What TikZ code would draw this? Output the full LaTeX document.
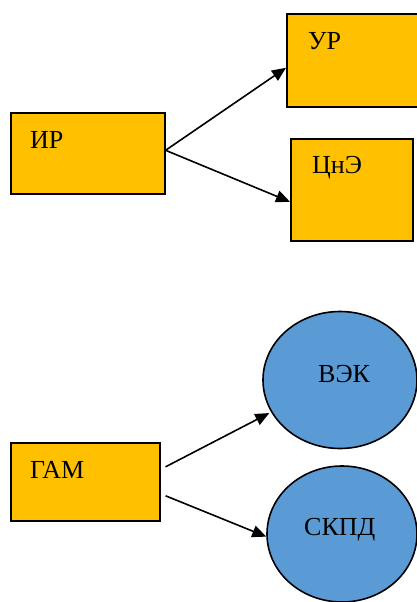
\documentclass[tikz,border=0pt]{standalone}
\usepackage{fontspec}
\setmainfont{Liberation Serif}
\usetikzlibrary{shapes.geometric,arrows.meta}
\definecolor{boxyellow}{HTML}{FFC000}
\definecolor{ovalblue}{HTML}{5B9BD5}
\tikzset{
  box/.style={draw, line width=1.6pt, fill=boxyellow, anchor=north west, inner sep=0pt},
  oval/.style={ellipse, draw, line width=1.6pt, fill=ovalblue, inner sep=0pt},
  lbl/.style={anchor=base west, inner sep=0pt, font=\fontsize{26}{30}\selectfont},
  arr/.style={line width=1.6pt, -{Triangle[length=14pt,width=12pt]}}
}
\begin{document}
\begin{tikzpicture}[x=1pt,y=-1pt]
    \useasboundingbox (0,0) rectangle (417,602);

    % Upper group: boxes
    \node[box, minimum width=154pt, minimum height=81pt] (ir) at (10,112) {};
    \node[box, minimum width=134pt, minimum height=93pt] (ur) at (286,13) {};
    \node[box, minimum width=122pt, minimum height=102pt] (cne) at (290,138) {};
    \node[lbl] (ir-t) at (30,148) {ИР};
    \node[lbl] (ur-t) at (308,49) {УР};
    \node[lbl] (cne-t) at (312,173) {ЦнЭ};

    \draw[arr] ([yshift=3pt]ir.east) -- ([yshift=-7.5pt]ur.west);
    \draw[arr] ([yshift=3pt]ir.east) -- ([yshift=-12pt]cne.west);

    % Lower group: box and ovals
    \node[box, minimum width=149pt, minimum height=78pt] (gam) at (10,442) {};
    \node[oval, minimum width=154pt, minimum height=137pt] (vek) at (340,380) {};
    \node[oval, minimum width=150pt, minimum height=136pt] (skpd) at (342,534) {};
    \node[lbl] (gam-t) at (30,478) {ГАМ};
    \node[lbl] (vek-t) at (318,382) {ВЭК};
    \node[lbl] (skpd-t) at (304,535) {СКПД};

    \draw[arr, shorten >=2pt] ([xshift=5pt,yshift=15pt]gam.east) -- (vek.205);
    \draw[arr] ([xshift=5pt,yshift=-14pt]gam.east) -- (skpd.182);
\end{tikzpicture}
\end{document}
